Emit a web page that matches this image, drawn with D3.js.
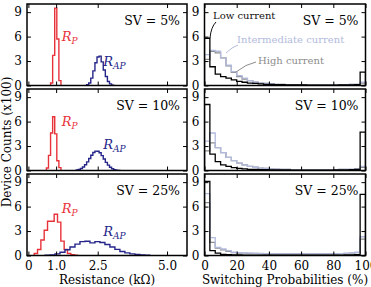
<!DOCTYPE html>
<html><head><meta charset="utf-8">
<script src="https://cdn.jsdelivr.net/npm/d3@7/dist/d3.min.js"></script>
<style>
html,body{margin:0;padding:0;background:#fff;}
svg{display:block;}
text{font-family:"DejaVu Serif",serif;}
</style></head>
<body>
<script>
// ---------------- DATA ----------------
const rowLabels = ["SV = 5%", "SV = 10%", "SV = 25%"];
const resTicks = [0, 1.0, 2.5, 5.0];
const resTickLabels = ["0", "1.0", "2.5", "5.0"];
const probTicks = [0, 20, 40, 60, 80, 100];
const countTicks = [0, 3, 6, 9];

// Resistance histograms (kΩ), counts in hundreds
const rpStart = [0.8, 0.65, 0.21];
const rpBin = [0.075, 0.075, 0.12];
const rp5 = [0.3, 3.7, 9.5, 5.7, 0.6];
const rp10 = [0.3, 1.85, 4.6, 6.6, 4.5, 1.2, 0.35];
const rp25 = [0.25, 0.74, 1.9, 3.1, 4.2, 4.2, 5.06, 4.1, 1.77, 0.74, 0.25, 0.1, 0.03];

const rapStart = [2.1, 1.725, 0.6];
const rapBin = [0.075, 0.075, 0.18];
const rap5 = [0.1, 0.3, 0.9, 1.8, 2.8, 3.5, 3.6, 2.9, 1.9, 1.1, 0.5, 0.2, 0.05];
const rap10 = [0.06, 0.12, 0.24, 0.43, 0.7, 1.06, 1.47, 1.88, 2.2, 2.38, 2.37, 2.17, 1.82, 1.41, 1.0, 0.66, 0.4, 0.22, 0.11, 0.05, 0.02];
const rap25 = [0.03, 0.08, 0.2, 0.4, 0.7, 1.05, 1.4, 1.7, 1.75, 1.55, 1.7, 1.6, 1.35, 1.05, 0.75, 0.5, 0.32, 0.2, 0.12, 0.08, 0.03];

// Switching probability histograms (%), 30 bins
const probBin = 100 / 30;
const low5 = [5.8, 2.3, 1.4, 1.1, 0.9, 0.7, 0.5, 0.4, 0.3, 0.25, 0.2, 0.15, 0.12, 0.1, 0.1, 0.08, 0.08, 0.06, 0.06, 0.05, 0.05, 0.05, 0.05, 0.05, 0.05, 0.06, 0.06, 0.08, 0.1, 1.65];
const mid5 = [3.8, 4.3, 4.2, 3.4, 2.5, 1.7, 1.2, 0.9, 0.6, 0.4, 0.3, 0.25, 0.2, 0.15, 0.12, 0.1, 0.1, 0.1, 0.08, 0.08, 0.08, 0.08, 0.08, 0.08, 0.08, 0.1, 0.1, 0.12, 0.15, 0.4];
const high5 = [3.2, 4.2, 4.0, 3.4, 2.4, 1.6, 1.1, 0.8, 0.6, 0.4, 0.3, 0.25, 0.2, 0.15, 0.12, 0.1, 0.1, 0.1, 0.08, 0.08, 0.08, 0.08, 0.08, 0.08, 0.08, 0.1, 0.1, 0.12, 0.15, 0.3];
const low10 = [8.1, 2.0, 1.1, 0.7, 0.5, 0.35, 0.25, 0.2, 0.15, 0.12, 0.1, 0.1, 0.08, 0.08, 0.06, 0.06, 0.05, 0.05, 0.05, 0.05, 0.05, 0.05, 0.05, 0.05, 0.06, 0.06, 0.08, 0.1, 0.15, 4.7];
const mid10 = [3.6, 4.6, 2.8, 2.2, 1.6, 1.2, 0.9, 0.7, 0.5, 0.4, 0.3, 0.25, 0.2, 0.18, 0.15, 0.12, 0.1, 0.1, 0.1, 0.1, 0.1, 0.1, 0.1, 0.1, 0.1, 0.12, 0.12, 0.15, 0.2, 0.5];
const high10 = [2.4, 3.4, 2.8, 2.2, 1.6, 1.2, 0.9, 0.7, 0.5, 0.4, 0.3, 0.25, 0.2, 0.18, 0.15, 0.12, 0.1, 0.1, 0.1, 0.1, 0.1, 0.1, 0.1, 0.1, 0.1, 0.12, 0.12, 0.15, 0.2, 0.4];
const low25 = [9.1, 0.6, 0.3, 0.15, 0.1, 0.08, 0.06, 0.05, 0.05, 0.05, 0.05, 0.05, 0.05, 0.05, 0.05, 0.05, 0.05, 0.05, 0.05, 0.05, 0.05, 0.05, 0.05, 0.05, 0.05, 0.05, 0.06, 0.08, 0.1, 7.5];
const mid25 = [7.6, 2.2, 1.0, 0.8, 0.6, 0.4, 0.35, 0.3, 0.3, 0.25, 0.25, 0.22, 0.2, 0.2, 0.2, 0.2, 0.2, 0.2, 0.2, 0.2, 0.2, 0.2, 0.2, 0.2, 0.2, 0.22, 0.25, 0.3, 0.4, 2.3];
const high25 = [6.5, 1.6, 0.9, 0.7, 0.5, 0.35, 0.3, 0.3, 0.25, 0.25, 0.22, 0.2, 0.2, 0.2, 0.2, 0.2, 0.2, 0.2, 0.2, 0.2, 0.2, 0.2, 0.2, 0.2, 0.2, 0.22, 0.25, 0.3, 0.35, 2.0];

// ---------------- LAYOUT ----------------
const W = 371, H = 287;
const colX = [[27, 187], [204.5, 365.5]];
const rowTop = [4, 89, 174];
const rowH = 81.5;
const C = {rp: "#e8323a", rap: "#26268a", low: "#000000", mid: "#b3bbdd", high: "#8c8c8c"};

const svg = d3.select("body").append("svg").attr("width", W).attr("height", H);

const xRes = d3.scaleLinear().domain([-0.05, 5.72]).range(colX[0]);
const xProb = d3.scaleLinear().domain([0, 100]).range(colX[1]);

const rpSets = [rp5, rp10, rp25];
const rapSets = [rap5, rap10, rap25];
const lowSets = [low5, low10, low25];
const midSets = [mid5, mid10, mid25];
const highSets = [high5, high10, high25];

function stepPoints(start, w, vals, x, y) {
  const pts = [[x(start), y(0)]];
  vals.forEach((v, i) => {
    pts.push([x(start + i * w), y(v)]);
    pts.push([x(start + (i + 1) * w), y(v)]);
  });
  pts.push([x(start + vals.length * w), y(0)]);
  return pts;
}
const line = d3.line();

rowLabels.forEach((lab, r) => {
  const y = d3.scaleLinear().domain([0, 10]).range([rowTop[r] + rowH, rowTop[r]]);
  [0, 1].forEach(c => {
    const x = c === 0 ? xRes : xProb;
    const g = svg.append("g");
    const cid = "clip" + r + c;
    svg.append("clipPath").attr("id", cid).append("rect")
      .attr("x", colX[c][0]).attr("y", rowTop[r]).attr("width", colX[c][1] - colX[c][0]).attr("height", rowH);
    const data = g.append("g").attr("clip-path", `url(#${cid})`);
    if (c === 0) {
      data.append("path").attr("d", line(stepPoints(rpStart[r], rpBin[r], rpSets[r], x, y)))
        .attr("fill", "none").attr("stroke", C.rp).attr("stroke-width", 1.4);
      data.append("path").attr("d", line(stepPoints(rapStart[r], rapBin[r], rapSets[r], x, y)))
        .attr("fill", "none").attr("stroke", C.rap).attr("stroke-width", 1.4);
    } else {
      [[highSets, C.high], [midSets, C.mid], [lowSets, C.low]].forEach(([sets, col]) => {
        data.append("path").attr("d", line(stepPoints(0, probBin, sets[r], x, y)))
          .attr("fill", "none").attr("stroke", col).attr("stroke-width", 1.3);
      });
    }
    // axes with inward ticks
    const ticksX = c === 0 ? resTicks : probTicks;
    const ax = d3.axisBottom(x).tickValues(ticksX).tickSizeInner(-4).tickSizeOuter(0).tickPadding(6)
      .tickFormat(c === 0 ? ((d, i) => resTickLabels[i]) : d3.format("d"));
    const gb = g.append("g").attr("transform", `translate(0,${rowTop[r] + rowH})`).call(ax);
    if (r !== 2) gb.selectAll("text").remove();
    g.append("g").attr("transform", `translate(0,${rowTop[r]})`)
      .call(d3.axisTop(x).tickValues(ticksX).tickSizeInner(-4).tickSizeOuter(0)).selectAll("text").remove();
    g.append("g").attr("transform", `translate(${colX[c][0]},0)`)
      .call(d3.axisLeft(y).tickValues(countTicks).tickSizeInner(-4).tickSizeOuter(0).tickPadding(5));
    g.append("g").attr("transform", `translate(${colX[c][1]},0)`)
      .call(d3.axisRight(y).tickValues(countTicks).tickSizeInner(-4).tickSizeOuter(0)).selectAll("text").remove();
    g.selectAll(".domain").remove();
    g.selectAll(".tick line").attr("stroke", "#000").attr("stroke-width", 1);
    g.selectAll(".tick text").attr("font-family", "DejaVu Serif").attr("font-size", 12).attr("fill", "#000");
    // frame
    g.append("rect").attr("x", colX[c][0]).attr("y", rowTop[r])
      .attr("width", colX[c][1] - colX[c][0]).attr("height", rowH)
      .attr("fill", "none").attr("stroke", "#000").attr("stroke-width", 1.5);
    // SV label
    g.append("text").attr("x", colX[c][1] - 7).attr("y", rowTop[r] + 21)
      .attr("text-anchor", "end").attr("font-size", 12.5).text(lab);
  });
  // R labels
  const rpLab = svg.append("text").attr("x", xRes(1.2)).attr("y", [41, 126, 213][r])
    .attr("fill", C.rp).attr("font-style", "italic").attr("font-size", 13);
  rpLab.append("tspan").text("R");
  rpLab.append("tspan").attr("font-size", 9).attr("dy", 3).text("P");
  const rapLab = svg.append("text").attr("x", xRes(2.7)).attr("y", [66, 149, 236][r])
    .attr("fill", C.rap).attr("font-style", "italic").attr("font-size", 13);
  rapLab.append("tspan").text("R");
  rapLab.append("tspan").attr("font-size", 9).attr("dy", 3).text("AP");
});

// annotations in top-right panel
const ann = svg.append("g").attr("font-family", "Liberation Serif").attr("font-size", 10);
ann.append("text").attr("x", 213).attr("y", 19).attr("fill", "#111").text("Low current");
ann.append("text").attr("x", 237).attr("y", 43).attr("fill", C.mid).text("Intermediate current");
ann.append("text").attr("x", 258).attr("y", 64).attr("fill", C.high).text("High current");
ann.append("path").attr("d", "M210,38 Q211,27 216,22").attr("fill", "none").attr("stroke", "#111").attr("stroke-width", 1);
ann.append("path").attr("d", "M226,53 Q232,47 238,45").attr("fill", "none").attr("stroke", C.mid).attr("stroke-width", 1);
ann.append("path").attr("d", "M236,72 Q246,64 256,62").attr("fill", "none").attr("stroke", C.high).attr("stroke-width", 1);

// axis titles
svg.append("text").attr("x", 107).attr("y", 284).attr("text-anchor", "middle").attr("font-size", 12).text("Resistance (kΩ)");
svg.append("text").attr("x", 285).attr("y", 284).attr("text-anchor", "middle").attr("font-size", 12).text("Switching Probabilities (%)");
svg.append("text").attr("transform", "translate(11,142) rotate(-90)").attr("text-anchor", "middle").attr("font-size", 12).text("Device Counts (x100)");
</script>
</body></html>
